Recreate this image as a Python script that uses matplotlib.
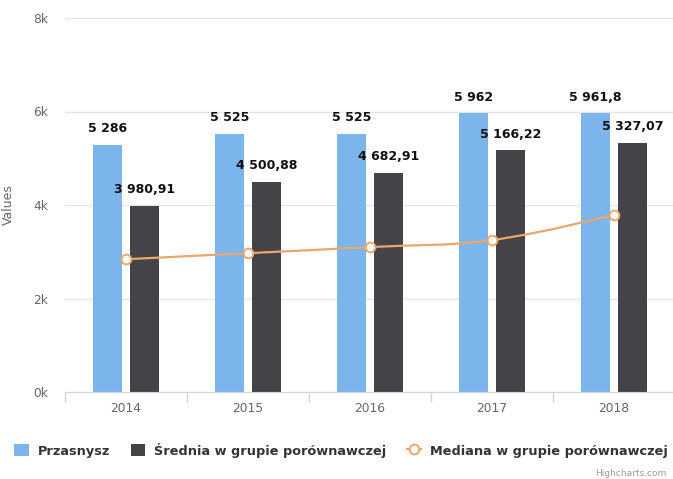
import numpy as np
import matplotlib.pyplot as plt
from matplotlib.path import Path
from matplotlib.patches import PathPatch, Patch
from matplotlib.lines import Line2D

# data
years = ['2014', '2015', '2016', '2017', '2018']
przasnysz = [5286, 5525, 5525, 5962, 5961.8]
srednia = [3980.91, 4500.88, 4682.91, 5166.22, 5327.07]
mediana = [2840, 2970, 3100, 3250, 3790]

c_blue = '#7cb5ec'
c_dark = '#434348'
c_orange = '#eda66a'


def pl_format(v):
    s = ('%.2f' % v).rstrip('0').rstrip('.')
    if '.' in s:
        ip, dp = s.split('.')
    else:
        ip, dp = s, ''
    groups = []
    while len(ip) > 3:
        groups.insert(0, ip[-3:])
        ip = ip[:-3]
    groups.insert(0, ip)
    out = ' '.join(groups)
    if dp:
        out += ',' + dp
    return out


def spline_path(xs, ys, smoothing=1.5):
    # highcharts-like spline control points
    n = len(xs)
    left = [None] * n
    right = [None] * n
    denom = smoothing + 1
    for i in range(1, n - 1):
        lx, ly = xs[i - 1], ys[i - 1]
        nx, ny = xs[i + 1], ys[i + 1]
        px, py = xs[i], ys[i]
        lcx = (smoothing * px + lx) / denom
        lcy = (smoothing * py + ly) / denom
        rcx = (smoothing * px + nx) / denom
        rcy = (smoothing * py + ny) / denom
        corr = (rcy - lcy) * (rcx - px) / (rcx - lcx) + py - rcy
        lcy += corr
        rcy += corr
        if lcy > ly and lcy > py:
            lcy = max(ly, py)
            rcy = 2 * py - lcy
        elif lcy < ly and lcy < py:
            lcy = min(ly, py)
            rcy = 2 * py - lcy
        if rcy > ny and rcy > py:
            rcy = max(ny, py)
            lcy = 2 * py - rcy
        elif rcy < ny and rcy < py:
            rcy = min(ny, py)
            lcy = 2 * py - rcy
        left[i] = (lcx, lcy)
        right[i] = (rcx, rcy)
    verts = [(xs[0], ys[0])]
    codes = [Path.MOVETO]
    for i in range(1, n):
        c1 = right[i - 1] if right[i - 1] else (xs[i - 1], ys[i - 1])
        c2 = left[i] if left[i] else (xs[i], ys[i])
        verts += [c1, c2, (xs[i], ys[i])]
        codes += [Path.CURVE4] * 3
    return Path(verts, codes)


plt.rcParams['font.family'] = 'DejaVu Sans'

fig = plt.figure(figsize=(6.73, 4.79), dpi=100)
ax = fig.add_axes([65 / 673, 87 / 479, 610 / 673, 374 / 479])

x = np.arange(len(years))
w = 0.24
off = 0.153
b1 = ax.bar(x - off, przasnysz, w, color=c_blue, zorder=2)
b2 = ax.bar(x + off, srednia, w, color=c_dark, zorder=2)

for xi, v in zip(x - off, przasnysz):
    ax.annotate(pl_format(v), (xi, v), xytext=(0, 7), textcoords='offset points',
                ha='center', va='bottom', fontsize=9, fontweight='bold', color='#111111', zorder=5)
for xi, v in zip(x + off, srednia):
    ax.annotate(pl_format(v), (xi, v), xytext=(0, 7), textcoords='offset points',
                ha='center', va='bottom', fontsize=9, fontweight='bold', color='#111111', zorder=5)

path = spline_path(list(x.astype(float)), mediana)
ax.add_patch(PathPatch(path, facecolor='none', edgecolor=c_orange, lw=1.6, zorder=3))
ax.plot(x, mediana, ls='none', marker='o', ms=7, mfc='white', mec=c_orange, mew=1.4, zorder=4)

ax.set_xlim(-0.5, 4.5)
ax.set_ylim(0, 8000)
ax.set_yticks([0, 2000, 4000, 6000, 8000])
ax.set_yticklabels(['0k', '2k', '4k', '6k', '8k'])
ax.set_xticks(x)
ax.set_xticklabels(years)
ax.set_xticks(np.arange(-0.5, 5, 1), minor=True)

ax.grid(axis='y', color='#e6e6e6', lw=1, zorder=0)
ax.set_axisbelow(True)
for s in ['top', 'right', 'left']:
    ax.spines[s].set_visible(False)
ax.spines['bottom'].set_color('#ccd6eb')

ax.tick_params(axis='y', length=0, pad=12, labelsize=8.8, labelcolor='#666666')
ax.tick_params(axis='x', which='major', length=0, pad=7, labelsize=8.8, labelcolor='#666666')
ax.tick_params(axis='x', which='minor', length=7, color='#ccd6eb', width=1)

ax.set_ylabel('Values', fontsize=9, color='#666666')
ax.yaxis.set_label_coords(-50 / 610, 0.5)

handles = [
    Patch(facecolor=c_blue, edgecolor='none'),
    Patch(facecolor=c_dark, edgecolor='none'),
    Line2D([0], [0], color=c_orange, lw=1.6, marker='o', ms=7, mfc='white', mec=c_orange, mew=1.4),
]
labels = ['Przasnysz', 'Średnia w grupie porównawczej', 'Mediana w grupie porównawczej']
fig.legend(handles, labels, loc='center', bbox_to_anchor=(0.507, 1 - 450 / 479), ncol=3,
           frameon=False, handlelength=1.1, handleheight=1.1, handletextpad=0.7, columnspacing=1.6,
           prop={'size': 9.3, 'weight': 'bold'}, labelcolor='#333333')

fig.text(595 / 673, 1 - 474 / 479, 'Highcharts.com', fontsize=6.5, color='#999999', ha='left', va='center')

fig.savefig('out.png', dpi=100)
